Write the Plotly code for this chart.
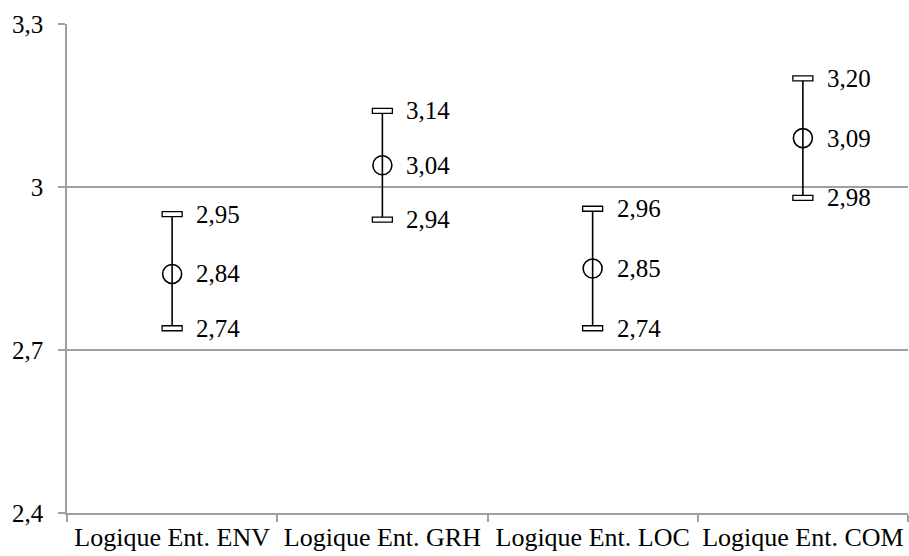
import plotly.graph_objects as go

categories = ['Logique Ent. ENV', 'Logique Ent. GRH', 'Logique Ent. LOC', 'Logique Ent. COM']
low = [2.74, 2.94, 2.74, 2.98]
mean = [2.84, 3.04, 2.85, 3.09]
high = [2.95, 3.14, 2.96, 3.20]

FONT = '"Liberation Serif", "Times New Roman", serif'


def fmt(v):
    return f'{v:.2f}'.replace('.', ',')


def plot():
    fig = go.Figure()

    fig.add_trace(
        go.Scatter(
            x=categories, y=mean, mode='markers',
            marker=dict(symbol='circle-open', size=19, color='black', line=dict(width=1.6)),
            error_y=dict(
                type='data', symmetric=False,
                array=[h - m for h, m in zip(high, mean)],
                arrayminus=[m - l for m, l in zip(mean, low)],
                width=0, thickness=1.6, color='black'
            ),
            showlegend=False, hoverinfo='skip'
        )
    )

    # rectangular caps at the high / low ends
    for i in range(len(categories)):
        for v in (high[i], low[i]):
            fig.add_shape(
                type='rect', xref='x', yref='y',
                xsizemode='pixel', xanchor=i, x0=-10, x1=10,
                ysizemode='pixel', yanchor=v, y0=-2.5, y1=2.5,
                line=dict(color='black', width=1.3), fillcolor='white'
            )
        for v in (high[i], mean[i], low[i]):
            fig.add_annotation(
                x=categories[i], y=v, text=fmt(v), showarrow=False,
                xanchor='left', yanchor='middle', xshift=22,
                font=dict(family=FONT, size=25, color='black')
            )

    fig.update_layout(
        width=909, height=556,
        margin=dict(l=67, r=1, t=24, b=43),
        paper_bgcolor='white', plot_bgcolor='white',
        font=dict(family=FONT, size=25, color='black'),
        xaxis=dict(
            type='category', range=[-0.5, 3.5], tickson='boundaries',
            ticks='outside', ticklen=7, tickcolor='#a0a0a0', tickwidth=1.5,
            showgrid=False, showline=True, linecolor='#a0a0a0', linewidth=1.5,
            tickfont=dict(family=FONT, size=26), tickangle=0, automargin=False
        ),
        yaxis=dict(
            range=[2.4, 3.3], tickvals=[2.4, 2.7, 3.0, 3.3],
            ticktext=['2,4', '2,7', '3', '3,3'],
            ticks='outside', ticklen=7, tickcolor='#a0a0a0', tickwidth=1.5,
            showgrid=True, gridcolor='#a0a0a0', gridwidth=1.5,
            showline=True, linecolor='#a0a0a0', linewidth=1.5,
            zeroline=False, tickfont=dict(family=FONT, size=25),
            ticklabelstandoff=10, automargin=False
        )
    )

    fig.write_html('out.html', config={'displayModeBar': False},
                   post_script="document.body.style.margin='0';")


if __name__ == "__main__":
    plot()
